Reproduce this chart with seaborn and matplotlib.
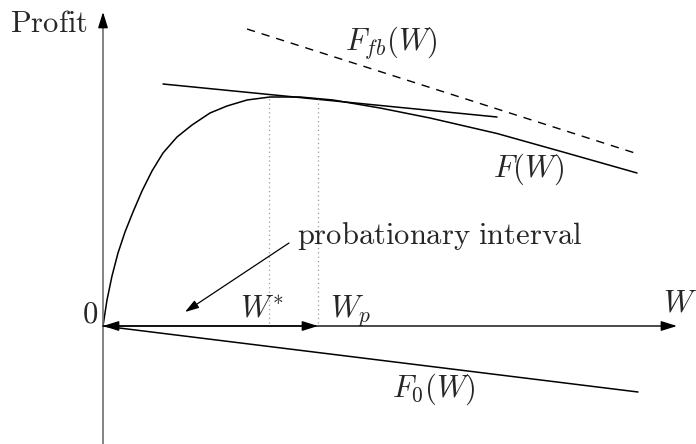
import matplotlib
matplotlib.use("Agg")
import matplotlib.pyplot as plt
import seaborn as sns
import pandas as pd

# ---- data (arbitrary units) ----
F_w = [0.00, 0.04, 0.09, 0.15, 0.22, 0.30, 0.39, 0.49, 0.60, 0.74, 0.89, 1.07,
       1.24, 1.44, 1.67, 1.97, 2.30, 2.77, 3.27, 3.94, 4.60, 5.34]
F_profit = [0.00, 0.26, 0.50, 0.73, 0.94, 1.14, 1.35, 1.55, 1.73, 1.89, 2.01, 2.13,
            2.20, 2.26, 2.29, 2.29, 2.26, 2.18, 2.08, 1.925, 1.74, 1.53]
tangent_w = [0.60, 3.94]
tangent_profit = [2.42, 2.09]
Ffb_w = [1.44, 5.35]
Ffb_profit = [2.97, 1.72]
F0_w = [0.00, 5.35]
F0_profit = [0.00, -0.66]
w_star = 1.66
w_p = 2.15
profit_star = 2.29
profit_p = 2.27

sns.set_theme(style="white")
plt.rcParams["mathtext.fontset"] = "cm"
plt.rcParams["font.family"] = ["DejaVu Serif"]

fig = plt.figure(figsize=(6.96, 4.44), dpi=100)
ax = fig.add_axes([0, 0, 1, 1])
ax.set_xlim(-1.03, 5.93)
ax.set_ylim(-1.18, 3.26)
ax.axis("off")

def draw(xs, ys, **kw):
    df = pd.DataFrame({"W": xs, "P": ys})
    sns.lineplot(data=df, x="W", y="P", sort=False, estimator=None, ax=ax, **kw)
    ax.lines[-1].set_solid_joinstyle("round")

draw(F_w, F_profit, color="black", lw=1.1)
draw(tangent_w, tangent_profit, color="black", lw=1.1)
draw(F0_w, F0_profit, color="black", lw=1.1)
draw(Ffb_w, Ffb_profit, color="black", lw=1.0)
ax.lines[-1].set_linestyle((0, (6, 5)))

# dotted guides
draw([w_star, w_star], [0.03, profit_star], color="#9a9a9a", lw=0.9)
ax.lines[-1].set_linestyle((0, (1, 2.5)))
draw([w_p, w_p], [0.03, profit_p], color="#9a9a9a", lw=0.9)
ax.lines[-1].set_linestyle((0, (1, 2.5)))

# axes
ax.plot([0, 0], [-1.2, 3.05], color="#6e6e6e", lw=1.2, solid_capstyle="butt")
ax.annotate("", xy=(0, 3.14), xytext=(0, 3.0),
            arrowprops=dict(arrowstyle="-|>,head_length=0.8,head_width=0.25",
                            color="black", lw=1.0, shrinkA=0, shrinkB=0))
ax.annotate("", xy=(5.74, 0), xytext=(0, 0),
            arrowprops=dict(arrowstyle="-|>,head_length=0.8,head_width=0.25",
                            color="black", lw=1.0, shrinkA=0, shrinkB=0))
ax.annotate("", xy=(w_p, 0), xytext=(0, 0),
            arrowprops=dict(arrowstyle="<|-|>,head_length=0.8,head_width=0.25",
                            color="black", lw=1.0, shrinkA=0, shrinkB=0))

fs = 22
ax.text(-0.93, 2.94, r"$\mathrm{Profit}$", fontsize=fs, ha="left", va="baseline")
ax.text(-0.05, 0.04, r"$0$", fontsize=fs, ha="right", va="baseline")
ax.text(1.37, 0.09, r"$W^{*}$", fontsize=fs, ha="left", va="baseline")
ax.text(2.27, 0.09, r"$W_{p}$", fontsize=fs, ha="left", va="baseline")
ax.text(5.60, 0.14, r"$W$", fontsize=fs, ha="left", va="baseline")
ax.text(2.42, 2.76, r"$F_{fb}(W)$", fontsize=fs, ha="left", va="baseline")
ax.text(3.90, 1.49, r"$F(W)$", fontsize=fs, ha="left", va="baseline")
ax.text(2.89, -0.71, r"$F_0(W)$", fontsize=fs, ha="left", va="baseline")
ax.text(1.94, 0.82, r"$\mathrm{probationary\ interval}$", fontsize=fs, ha="left", va="baseline")
ax.annotate("", xy=(0.82, 0.14), xytext=(1.86, 0.83),
            arrowprops=dict(arrowstyle="-|>,head_length=0.7,head_width=0.22",
                            color="black", lw=0.9, shrinkA=0, shrinkB=0))

fig.savefig("out.png", dpi=100)
